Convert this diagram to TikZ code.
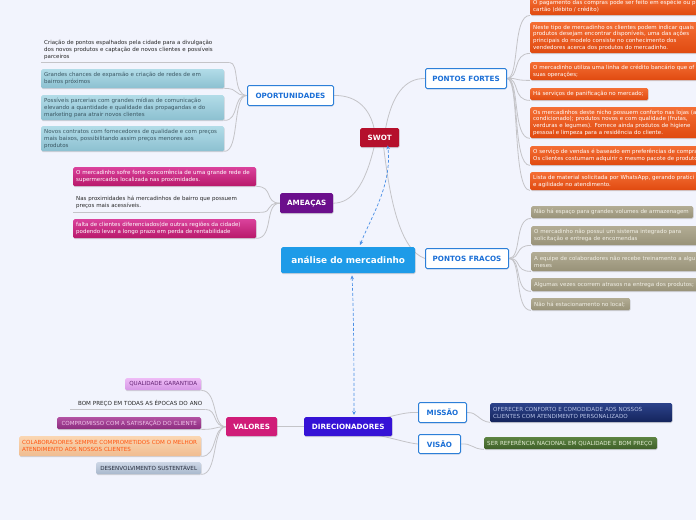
\documentclass[tikz,border=0pt]{standalone}
\usepackage{fontspec}
\setmainfont{DejaVu Sans}
\usetikzlibrary{shadows,arrows.meta,calc}
\definecolor{bg}{HTML}{F2F4FD}
\definecolor{mainblue}{HTML}{1E9BE8}
\definecolor{swotred}{HTML}{B5102C}
\definecolor{bordblue}{HTML}{2C7FD8}
\definecolor{txtblue}{HTML}{1B6FD6}
\definecolor{ameapurple}{HTML}{6B0F8C}
\definecolor{dirblue}{HTML}{3512D6}
\definecolor{valmag}{HTML}{D01C78}
\definecolor{conngray}{HTML}{C4C4C8}
\definecolor{dashblue}{HTML}{4A8FE6}
\pgfdeclarelayer{bgfill}
\pgfdeclarelayer{conns}
\pgfsetlayers{bgfill,conns,main}
\begin{document}
\begin{tikzpicture}[x=1pt,y=-1pt,
  conn/.style={draw=conngray,line width=0.8pt},
  dashconn/.style={draw=dashblue,line width=0.7pt,dash pattern=on 3pt off 2pt,{Stealth[length=4pt,width=3.6pt]}-{Stealth[length=4pt,width=3.6pt]}},
  shad/.style={drop shadow={shadow xshift=0.4pt,shadow yshift=-0.9pt,opacity=0.3}},
  hub/.style={anchor=north west,inner sep=0pt,rounded corners=1.5pt,font=\bfseries\fontsize{7.2}{8.5}\selectfont,text=white,shad},
  whub/.style={hub,fill=white,draw=bordblue,line width=1pt,text=txtblue},
  leaf/.style={anchor=north west,rounded corners=1.5pt,inner xsep=3pt,inner ysep=1pt,align=left,font=\fontsize{5.5}{6.8}\selectfont,shad},
  caps/.style={font=\fontsize{5.6}{6.9}\selectfont},
  plainleaf/.style={anchor=north west,inner xsep=3pt,inner ysep=1pt,align=left,font=\fontsize{5.5}{6.8}\selectfont,text=black!85},
  teal/.style={leaf,top color={rgb,255:red,178;green,220;blue,232},bottom color={rgb,255:red,140;green,192;blue,208},text={rgb,255:red,58;green,86;blue,98}},
  pinkb/.style={leaf,top color={rgb,255:red,218;green,66;blue,156},bottom color={rgb,255:red,184;green,24;blue,106},text=white},
  orangeb/.style={leaf,top color={rgb,255:red,244;green,110;blue,52},bottom color={rgb,255:red,224;green,74;blue,16},text=white},
  oliveb/.style={leaf,top color={rgb,255:red,178;green,172;blue,148},bottom color={rgb,255:red,152;green,146;blue,120},text={rgb,255:red,242;green,240;blue,230}},
]
\begin{pgfonlayer}{bgfill}
\fill[bg] (0,0) rectangle (696,520);
\end{pgfonlayer}
\useasboundingbox (0,0) rectangle (696,520);
\clip (0,0) rectangle (696,520);

% ---- hubs
\node[hub,fill=mainblue,minimum width=134pt,minimum height=26pt,font=\bfseries\fontsize{8.9}{10}\selectfont] (ana) at (281,247) {análise do mercadinho};
\node[hub,fill=swotred,minimum width=39pt,minimum height=19pt] (swot) at (360,128) {SWOT};
\node[whub,minimum width=86pt,minimum height=20pt] (opor) at (247,85) {OPORTUNIDADES};
\node[hub,fill=ameapurple,minimum width=53pt,minimum height=20pt] (amea) at (280,193) {AMEAÇAS};
\node[whub,minimum width=81pt,minimum height=20pt] (pfo) at (425,68) {PONTOS FORTES};
\node[whub,minimum width=83pt,minimum height=20pt] (pfr) at (425,248) {PONTOS FRACOS};
\node[hub,fill=dirblue,minimum width=88pt,minimum height=19pt] (dir) at (304,417) {DIRECIONADORES};
\node[hub,fill=valmag,minimum width=51pt,minimum height=19pt] (val) at (226,417) {VALORES};
\node[whub,minimum width=48pt,minimum height=20pt] (mis) at (418,402) {MISSÃO};
\node[whub,minimum width=42pt,minimum height=19pt] (vis) at (418,434) {VISÃO};

% ---- oportunidades
\node[plainleaf,text width=182pt,minimum height=24pt] (op1) at (41,38) {Criação de pontos espalhados pela cidade para a divulgação\\dos novos produtos e captação de novos clientes e possíveis\\parceiros};
\node[teal,text width=177pt,minimum height=19pt] (op2) at (41,69) {Grandes chances de expansão e criação de redes de em\\bairros próximos};
\node[teal,text width=177pt,minimum height=25pt] (op3) at (41,95) {Possíveis parcerias com grandes mídias de comunicação\\elevando a quantidade e qualidade das propagandas e do\\marketing para atrair novos clientes};
\node[teal,text width=177pt,minimum height=25pt] (op4) at (41,126) {Novos contratos com fornecedores de qualidade e com preços\\mais baixos, possibilitando assim preços menores aos\\produtos};

% ---- ameacas
\node[pinkb,text width=177pt,minimum height=19pt] (am1) at (73,167) {O mercadinho sofre forte concorrência de uma grande rede de\\supermercados localizada nas proximidades.};
\node[plainleaf,text width=181pt,minimum height=20pt] (am2) at (73,192) {Nas proximidades há mercadinhos de bairro que possuem\\preços mais acessíveis.};
\node[pinkb,text width=177pt,minimum height=19pt] (am3) at (73,219) {falta de clientes diferenciados(de outras regiões da cidade)\\podendo levar a longo prazo em perda de rentabilidade};

% ---- pontos fortes
\node[orangeb,text width=180pt,minimum height=18pt] (pf1) at (530,-3) {O pagamento das compras pode ser feito em espécie ou p\\cartão (débito / crédito)};
\node[orangeb,text width=180pt,minimum height=31pt] (pf2) at (530,22) {Neste tipo de mercadinho os clientes podem indicar quais\\produtos desejam encontrar disponíveis, uma das ações\\principais do modelo consiste no conhecimento dos\\vendedores acerca dos produtos do mercadinho.};
\node[orangeb,text width=180pt,minimum height=18pt] (pf3) at (530,62) {O mercadinho utiliza uma linha de crédito bancário que of\\suas operações;};
\node[orangeb,text width=112pt,minimum height=12pt] (pf4) at (530,88) {Há serviços de panificação no mercado;};
\node[orangeb,text width=180pt,minimum height=31pt] (pf5) at (530,107) {Os mercadinhos deste nicho possuem conforto nas lojas (a\\condicionado); produtos novos e com qualidade (frutas,\\verduras e legumes). Fornece ainda produtos de higiene\\pessoal e limpeza para a residência do cliente.};
\node[orangeb,text width=180pt,minimum height=19pt] (pf6) at (530,146) {O serviço de vendas é baseado em preferências de compra\\Os clientes costumam adquirir o mesmo pacote de produto};
\node[orangeb,text width=180pt,minimum height=18pt] (pf7) at (530,172) {Lista de material solicitada por WhatsApp, gerando pratici\\e agilidade no atendimento.};

% ---- pontos fracos
\node[oliveb,text width=156pt,minimum height=12pt] (pw1) at (531,206) {Não há espaço para grandes volumes de armazenagem};
\node[oliveb,text width=180pt,minimum height=19pt] (pw2) at (531,226) {O mercadinho não possui um sistema integrado para\\solicitação e entrega de encomendas};
\node[oliveb,text width=180pt,minimum height=19pt] (pw3) at (531,252) {A equipe de colaboradores não recebe treinamento a algu\\meses};
\node[oliveb,text width=180pt,minimum height=13pt] (pw4) at (531,278) {Algumas vezes ocorrem atrasos na entrega dos produtos;};
\node[oliveb,text width=93pt,minimum height=12pt] (pw5) at (531,298) {Não há estacionamento no local;};

% ---- valores
\node[leaf,caps,top color={rgb,255:red,238;green,186;blue,246},bottom color={rgb,255:red,214;green,150;blue,230},text={rgb,255:red,100;green,36;blue,116},text width=70pt,minimum height=12pt,align=center] (v1) at (125,378) {QUALIDADE GARANTIDA};
\node[plainleaf,caps,text width=129pt,minimum height=12pt,align=right] (v2) at (70,397) {BOM PREÇO EM TODAS AS ÉPOCAS DO ANO};
\node[leaf,caps,top color={rgb,255:red,178;green,82;blue,162},bottom color={rgb,255:red,140;green,44;blue,126},text={rgb,255:red,240;green,196;blue,234},text width=138pt,minimum height=12pt,align=center] (v3) at (57,417) {COMPROMISSO COM A SATISFAÇÃO DO CLIENTE};
\node[leaf,caps,top color={rgb,255:red,250;green,214;blue,178},bottom color={rgb,255:red,240;green,188;blue,144},text={rgb,255:red,255;green,86;blue,16},text width=176pt,minimum height=20pt] (v4) at (19,436) {COLABORADORES SEMPRE COMPROMETIDOS COM O MELHOR\\ATENDIMENTO AOS NOSSOS CLIENTES};
\node[leaf,caps,top color={rgb,255:red,204;green,214;blue,230},bottom color={rgb,255:red,168;green,184;blue,204},text={rgb,255:red,40;green,46;blue,62},text width=99pt,minimum height=12pt,align=center] (v5) at (96,462) {DESENVOLVIMENTO SUSTENTÁVEL};

% ---- missao / visao
\node[leaf,caps,top color={rgb,255:red,44;green,66;blue,138},bottom color={rgb,255:red,20;green,36;blue,92},text={rgb,255:red,184;green,196;blue,232},text width=176pt,minimum height=19pt] (mc) at (490,403) {OFERECER CONFORTO E COMODIDADE AOS NOSSOS\\CLIENTES COM ATENDIMENTO PERSONALIZADO};
\node[leaf,caps,top color={rgb,255:red,92;green,130;blue,66},bottom color={rgb,255:red,62;green,96;blue,40},text={rgb,255:red,226;green,236;blue,210},text width=167pt,minimum height=12pt] (vc) at (484,437) {SER REFERÊNCIA NACIONAL EM QUALIDADE E BOM PREÇO};

% ---- underlines of plain leaves
\draw[conn] (op1.south west) -- (op1.south east);
\draw[conn] (am2.south west) -- (am2.south east);
\draw[conn] (v2.south west) -- (v2.south east);

% ---- connectors
\begin{pgfonlayer}{conns}
\draw[conn] (opor.east) .. controls (358,95) and (370,110) .. ($(swot.north west)+(14,0)$);
\draw[conn] ($(swot.north)+(6,0)$) .. controls (392,95) and (405,78) .. (pfo.west);
\draw[conn] (amea.east) .. controls (352,203) and (365,185) .. ($(swot.south west)+(14,0)$);
\draw[conn] ($(swot.south)+(4,0)$) .. controls (390,200) and (400,250) .. (pfr.west);
\foreach \c in {op1,op2,op3,op4}{\draw[conn] (opor.west) .. controls (232,95) and (240,0 |- \c.south east) .. (\c.south east);}
\foreach \c in {am1,am2,am3}{\draw[conn] (amea.west) .. controls (264,203) and (274,0 |- \c.south east) .. (\c.south east);}
\foreach \c in {pf1,pf2,pf3,pf4,pf5,pf6,pf7}{\draw[conn] (pfo.east) .. controls (520,78) and (512,0 |- \c.south west) .. (\c.south west);}
\foreach \c in {pw1,pw2,pw3,pw4,pw5}{\draw[conn] (pfr.east) .. controls (522,258) and (514,0 |- \c.south west) .. (\c.south west);}
\foreach \c in {v1,v2,v3,v4,v5}{\draw[conn] (val.west) .. controls (212,427) and (218,0 |- \c.south east) .. (\c.south east);}
\draw[conn] (dir.west) -- (val.east);
\draw[conn] ($(dir.north east)+(-8,1)$) .. controls (400,414) and (408,412) .. (mis.west);
\draw[conn] ($(dir.south east)+(-14,-1)$) .. controls (400,440) and (408,443) .. (vis.west);
\draw[conn] (mis.east) .. controls (478,412) and (478,421) .. (mc.south west);
\draw[conn] (vis.east) .. controls (472,443) and (472,449) .. (vc.south west);
\end{pgfonlayer}

\draw[dashconn] ($(ana.north west)+(79,-2)$) .. controls (372,215) and (392,185) .. ($(swot.south)+(8,-2)$);
\draw[dashconn] ($(ana.south west)+(71,2)$) .. controls (354,320) and (354,380) .. ($(dir.north west)+(50,-2)$);
\end{tikzpicture}
\end{document}
